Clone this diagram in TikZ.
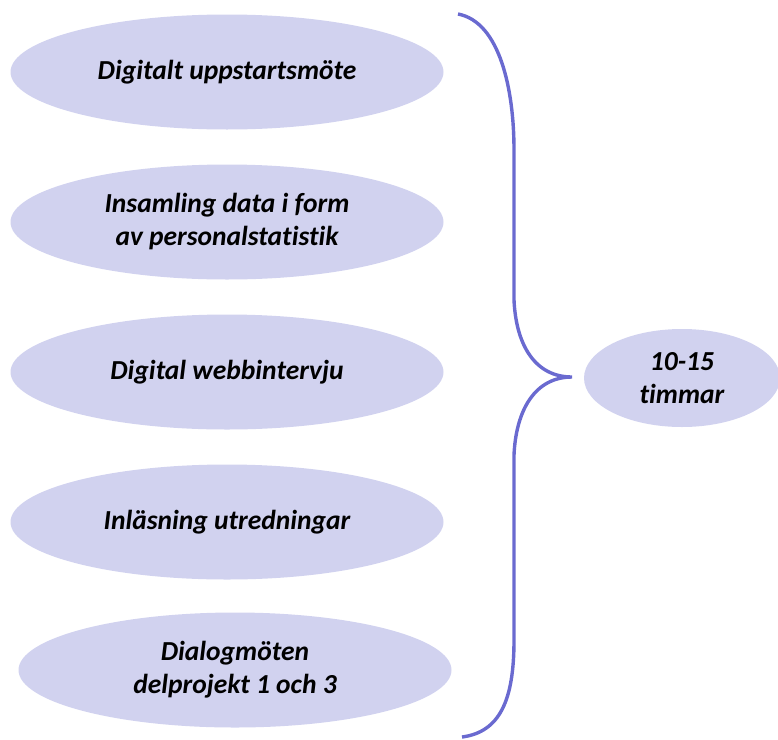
\documentclass[tikz,border=0pt]{standalone}
\usepackage{fontspec}
\setmainfont{Carlito}[RawFeature=-liga]
\usetikzlibrary{positioning,shapes.geometric}
\definecolor{ovalfill}{HTML}{D1D2EF}
\definecolor{bracecol}{HTML}{6A6AD0}

\begin{document}
\begin{tikzpicture}[x=1pt,y=-1pt,node distance=150pt,
                    main node/.style={ellipse,fill=ovalfill,minimum width=433pt,minimum height=115pt,
                      inner sep=0pt,align=center,font=\fontsize{27.5}{33}\selectfont\bfseries\itshape}]
  \useasboundingbox (0,0) rectangle (778,739);
  \node[main node] (1) at (227,72) {Digitalt uppstartsmöte};
  \node[main node] (2) [below of=1] {Insamling data i form\\av personalstatistik};
  \node[main node] (3) [below of=2] {Digital webbintervju};
  \node[main node] (4) [below of=3] {Inläsning utredningar};
  \node[main node] (5) at (235,670) {Dialogmöten\\delprojekt 1 och 3};
  \node[main node,minimum width=196pt,minimum height=98pt] (6) at (682,378) {10-15\\timmar};
  % brace
  \coordinate (top) at (458,14);
  \coordinate (tip) at (572,377);
  \coordinate (bot) at (462,737);
  \draw[bracecol,line width=3.4pt]
    (top) .. controls (500,22) and (514,90) .. (514,150) -- (514,300)
          .. controls (516,345) and (535,377) .. (tip)
          .. controls (535,377) and (516,410) .. (514,455) -- (514,640)
          .. controls (514,700) and (500,732) .. (bot);
\end{tikzpicture}
\end{document}
